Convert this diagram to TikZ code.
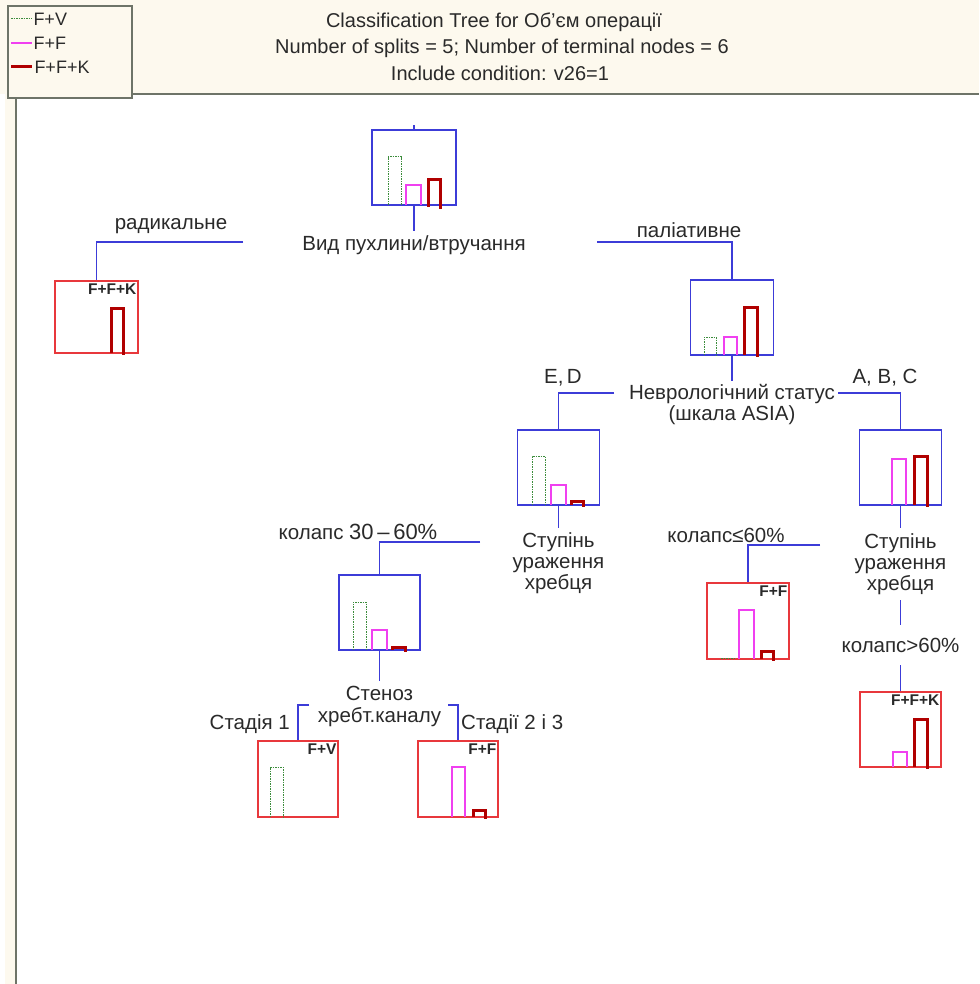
\documentclass[tikz,border=0pt]{standalone}
\usepackage{fontspec}
\setmainfont{Liberation Sans}
\definecolor{cream}{HTML}{FDF9EE}
\definecolor{nodeblue}{HTML}{3C3CD8}
\definecolor{termred}{HTML}{E8383C}
\definecolor{barred}{HTML}{B00000}
\definecolor{barmag}{HTML}{F040F0}
\definecolor{bargreen}{HTML}{3C8C3C}
\definecolor{hdrgray}{HTML}{6E7468}
\definecolor{txt}{HTML}{2A2A2A}
\begin{document}
\begin{tikzpicture}[x=1pt,y=-1pt,
  splitbox/.style={draw=nodeblue, line width=1.2pt, inner sep=0pt, minimum width=82pt, minimum height=75pt},
  termbox/.style={draw=termred, line width=1.2pt, inner sep=0pt, minimum width=81pt, minimum height=75pt},
  conn/.style={draw=nodeblue, line width=1.2pt},
  gbar/.style={draw=bargreen, line width=1pt, dash pattern=on 1.5pt off 1pt},
  mbar/.style={draw=barmag, line width=1.2pt},
  rbar/.style={draw=barred, line width=3pt},
  lbl/.style={text=txt, font=\fontsize{20.5}{21}\selectfont, inner sep=1pt, align=center},
  tlbl/.style={text=txt, font=\fontsize{15.5}{17}\selectfont\bfseries, inner sep=0pt},
  ttl/.style={text=txt, font=\fontsize{20}{22}\selectfont, inner sep=0pt}]
\useasboundingbox (0,0) rectangle (979,984);
% background
\fill[white] (0,0) rectangle (979,984);
\fill[cream] (0,0) rectangle (979,94);
\fill[cream] (5,94) rectangle (15,984);
\draw[hdrgray, line width=2.5pt] (131,94) -- (979,94);
\draw[hdrgray, line width=2pt] (16,97) -- (16,984);
% legend
\node[draw=hdrgray, line width=1.5pt, fill=cream, minimum width=124pt, minimum height=92pt, inner sep=0pt] (legend) at (70,52) {};
\coordinate (lg1) at (11,19); \coordinate (lg2) at (11,43); \coordinate (lg3) at (11,67);
\draw[gbar] (lg1) -- ++(21,0) node[ttl, anchor=west, inner sep=1pt, font=\fontsize{18}{20}\selectfont] (lgt1) {F+V};
\draw[mbar] (lg2) -- ++(21,0) node[ttl, anchor=west, inner sep=1pt, font=\fontsize{18}{20}\selectfont] (lgt2) {F+F};
\draw[rbar] (lg3) -- ++(21,0) node[ttl, anchor=west, inner sep=1pt, font=\fontsize{18}{20}\selectfont] (lgt3) {F+F+K};
% title
\node[ttl] (t1) at (494,22) {Classification Tree for Об'єм операції};
\node[ttl] (t2) at (502,48) {Number of splits = 5; Number of terminal nodes = 6};
\node[ttl] (t3) at (500,73) {Include condition: v26=1};

% ---------- nodes ----------
\node[splitbox, minimum width=84pt] (root) at (414,167.5) {};
\node[termbox, minimum width=83pt, minimum height=72pt] (term1) at (96.5,317) {};
\node[splitbox, minimum width=83pt] (n2) at (732,317.5) {};
\node[splitbox] (n3) at (558.5,467.5) {};
\node[splitbox] (n5) at (900.5,467.5) {};
\node[splitbox, minimum width=81pt] (n4) at (379.5,612.5) {};
\node[termbox, minimum width=80pt, minimum height=76pt] (tFV) at (298,779) {};
\node[termbox, minimum width=80pt, minimum height=76pt] (tFF1) at (458,779) {};
\node[termbox, minimum width=82pt, minimum height=76pt] (tFF2) at (748,621) {};
\node[termbox] (tFFK) at (900.5,729.5) {};

% terminal class labels
\node[tlbl, anchor=north east] (c1) at ([xshift=-2pt,yshift=-3pt]term1.north east) {F+F+K};
\node[tlbl, anchor=north east] (c2) at ([xshift=-2pt,yshift=-3pt]tFV.north east) {F+V};
\node[tlbl, anchor=north east] (c3) at ([xshift=-2pt,yshift=-3pt]tFF1.north east) {F+F};
\node[tlbl, anchor=north east] (c4) at ([xshift=-2pt,yshift=-3pt]tFF2.north east) {F+F};
\node[tlbl, anchor=north east] (c5) at ([xshift=-2pt,yshift=-3pt]tFFK.north east) {F+F+K};

% ---------- bars ----------
% root
\draw[gbar] (388,205) -- (388,157) -- (401,157) -- (401,205);
\draw[mbar] (406,205) -- (406,185) -- (421,185) -- (421,205);
\draw[rbar] (428,207) -- (428,180) -- (440,180) -- (440,209);
% term1
\draw[rbar] (111,353) -- (111,308) -- (123,308) -- (123,355);
% n2
\draw[gbar] (704,355) -- (704,337) -- (716,337) -- (716,355);
\draw[mbar] (724,355) -- (724,337) -- (737,337) -- (737,355);
\draw[rbar] (744,355) -- (744,307) -- (757,307) -- (757,357);
% n3
\draw[gbar] (532,505) -- (532,456) -- (545,456) -- (545,505);
\draw[mbar] (551,505) -- (551,485) -- (566,485) -- (566,505);
\draw[rbar] (571,505) -- (571,501) -- (583,501) -- (583,507);
% n5
\draw[mbar] (892,505) -- (892,459) -- (906,459) -- (906,505);
\draw[rbar] (914,505) -- (914,456) -- (927,456) -- (927,507);
% n4
\draw[gbar] (353,650) -- (353,602) -- (366,602) -- (366,650);
\draw[mbar] (372,650) -- (372,630) -- (387,630) -- (387,650);
\draw[rbar] (392,650) -- (392,647) -- (405,647) -- (405,652);
% tFV
\draw[gbar] (270,817) -- (270,767) -- (283,767) -- (283,817);
% tFF1
\draw[mbar] (452,817) -- (452,767) -- (465,767) -- (465,817);
\draw[rbar] (473,817) -- (473,810) -- (485,810) -- (485,819);
% tFF2
\draw[gbar] (721,658) -- (734,658);
\draw[mbar] (739,659) -- (739,610) -- (754,610) -- (754,659);
\draw[rbar] (761,659) -- (761,651) -- (773,651) -- (773,661);
% tFFK
\draw[mbar] (893,767) -- (893,752) -- (907,752) -- (907,767);
\draw[rbar] (914,767) -- (914,719) -- (927,719) -- (927,769);

% ---------- split labels ----------
\node[lbl] (rootlbl) at (414,245) {Вид пухлини/втручання};
\node[lbl] (n2lbl) at (732,405) {Неврологічний статус\\(шкала ASIA)};
\node[lbl] (n3lbl) at (558.5,563) {Ступінь\\ураження\\хребця};
\node[lbl] (n5lbl) at (900.5,564) {Ступінь\\ураження\\хребця};
\node[lbl, font=\fontsize{20.5}{22}\selectfont] (n4lbl) at (379.5,706) {Стеноз\\хребт.каналу};

% ---------- connectors ----------
\draw[conn] (root.north) -- ++(0,-4);
\draw[conn] (root.south) -- ++(0,25) coordinate (rootstem);
\coordinate (rootL) at (243,242);
\coordinate (rootR) at (597,242);
\draw[conn] (rootL) -| (term1.north);
\draw[conn] (rootR) -| (n2.north);
\draw[conn] (n2.south) -- ++(0,25) coordinate (n2stem);
\coordinate (n2L) at (614,393);
\coordinate (n2R) at (838,393);
\draw[conn] (n2L) -| (n3.north);
\draw[conn] (n2R) -| (n5.north);
\draw[conn] (n3.south) -- ++(0,22) coordinate (n3stem);
\coordinate (n3L) at (480,542);
\draw[conn] (n3L) -| (n4.north);
\draw[conn] (n5.south) -- ++(0,22) coordinate (n5stem);
\coordinate (n5L) at (820,545);
\draw[conn] (n5L) -| (tFF2.north);
\node[lbl] (gtlbl) at (900.5,645) {колапс>60\%};
\draw[conn] (900.5,600) coordinate (n5low) -- (900.5,625) coordinate (gtup);
\draw[conn] (900.5,665) coordinate (gtdown) -- (tFFK.north);
\draw[conn] (n4.south) -- ++(0,30) coordinate (n4stem);
\coordinate (n4L) at (309,705);
\coordinate (n4R) at (448,705);
\draw[conn] (n4L) -| (tFV.north);
\draw[conn] (n4R) -| (tFF1.north);

% ---------- edge labels ----------
\node[lbl] (e1) at (171,226) {радикальне};
\node[lbl] (e2) at (689,230) {паліативне};
\node[lbl] (e3) at (563,378) {E,\,D};
\node[lbl] (e4) at (885,378) {A, B, C};
\node[lbl] (e5) at (358,532) {колапс {\fontsize{22}{22}\selectfont 30\,–\,60\%}};
\node[lbl] (e6) at (726,535) {колапс≤60\%};
\node[lbl, anchor=east] (e7) at (291,724) {Стадія 1};
\node[lbl, anchor=west] (e8) at (460,724) {Стадії 2 і 3};
\end{tikzpicture}
\end{document}
